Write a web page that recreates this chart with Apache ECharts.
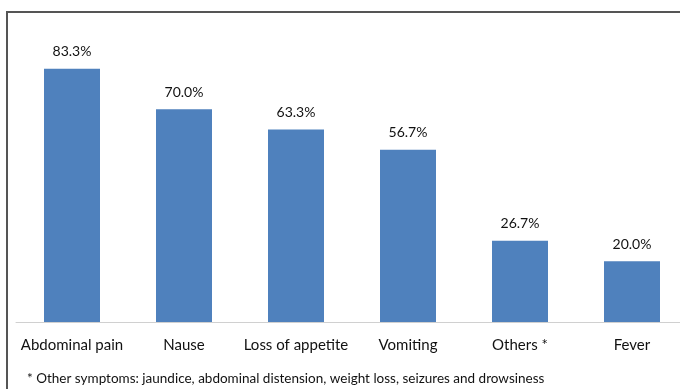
<!DOCTYPE html>
<html>
<head>
<meta charset="utf-8">
<script src="https://cdn.jsdelivr.net/npm/echarts@6/dist/echarts.min.js"></script>
<style>
  html, body { margin: 0; padding: 0; background: #fff; overflow: hidden; }
  /* slightly wider than the window: the original is cropped on the right */
  #chart { width: 688px; height: 389px; }
</style>
</head>
<body>
<div id="chart"></div>
<script>
const categories = ['Abdominal pain', 'Nause', 'Loss of appetite', 'Vomiting', 'Others *', 'Fever'];
const percentages = [83.3, 70.0, 63.3, 56.7, 26.7, 20.0];
const footnote = '* Other symptoms: jaundice, abdominal distension, weight loss, seizures and drowsiness';

const chart = echarts.init(document.getElementById('chart'), null, { renderer: 'canvas' });

const option = {
  animation: false,
  grid: { left: 16, right: 0, top: 18, bottom: 67 },
  xAxis: {
    type: 'category',
    data: categories,
    axisTick: { show: false },
    axisLine: { lineStyle: { color: '#d0d0d0', width: 1 } },
    axisLabel: {
      interval: 0,
      margin: 16,
      color: '#111',
      fontFamily: 'Lato',
      fontSize: 15
    }
  },
  yAxis: {
    type: 'value',
    min: 0,
    max: 100,
    show: false,
    splitLine: { show: false }
  },
  series: [
    {
      type: 'bar',
      data: percentages,
      barWidth: 56,
      itemStyle: { color: '#4F81BD' },
      label: {
        show: true,
        position: 'top',
        distance: 10,
        color: '#111',
        fontFamily: 'Lato',
        fontSize: 14,
        formatter: (p) => p.value.toFixed(1) + '%'
      }
    }
  ],
  graphic: [
    // frame lines (top and left)
    { type: 'line', shape: { x1: 7, y1: 12, x2: 688, y2: 12 }, style: { stroke: '#555', lineWidth: 2 } },
    { type: 'line', shape: { x1: 7, y1: 11, x2: 7, y2: 389 }, style: { stroke: '#555', lineWidth: 2 } },
    {
      type: 'text',
      left: 27,
      top: 372,
      style: { text: footnote, fill: '#111', font: '13.5px Lato' }
    }
  ]
};

chart.setOption(option);
</script>
</body>
</html>
